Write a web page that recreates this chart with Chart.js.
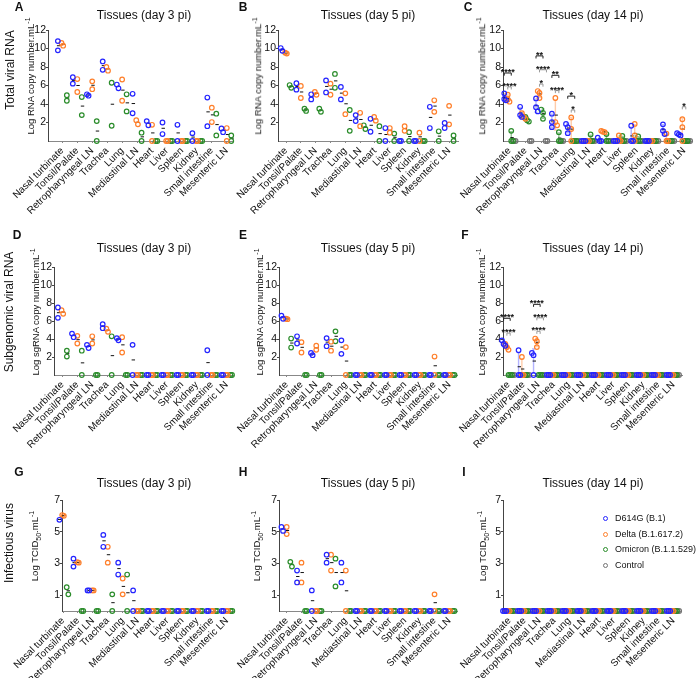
<!DOCTYPE html>
<html>
<head>
<meta charset="utf-8">
<script src="https://cdn.jsdelivr.net/npm/chart.js@4.4.0/dist/chart.umd.min.js"></script>
<style>
html, body { margin: 0; padding: 0; background: #fff; }
#fig { position: relative; width: 696px; height: 678px; overflow: hidden;
       font-family: "Liberation Sans", Arial, sans-serif; color: #111; }
#fig canvas { position: absolute; left: 0; top: 0; }
.t { position: absolute; white-space: nowrap; transform: translate(-50%, -50%); line-height: 1; }
.v { transform: translate(-50%, -50%) rotate(-90deg); }
.letter { font-weight: bold; font-size: 12px; }
.title { font-size: 12px; }
.ytitle { font-size: 9.5px; }
.row { font-size: 12px; }
.leg { position: absolute; font-size: 9px; white-space: nowrap; line-height: 1; }
.leg i { position: absolute; left: -12px; top: 0px; width: 3px; height: 3px; border-radius: 50%; border: 1.2px solid; }
</style>
</head>
<body>
<div id="fig"></div>
<script>
const FONT = '"Liberation Sans", Arial, sans-serif';

const TISSUES = ['Nasal turbinate', 'Tonsil/Palate', 'Retropharyngeal LN', 'Trachea', 'Lung', 'Mediastinal LN',
                 'Heart', 'Liver', 'Spleen', 'Kidney', 'Small intestine', 'Mesenteric LN'];
const GROUPS = ['D614G (B.1)', 'Delta (B.1.617.2)', 'Omicron (B.1.1.529)', 'Control'];
const COLORS = ['#2424ff', '#ff7f2a', '#2a8c2a', '#737373'];
const ERR_COLORS = ['rgba(36,36,255,0.35)', 'rgba(255,127,42,0.4)', 'rgba(42,140,42,0.5)', 'rgba(115,115,115,0.4)'];
const Y_TICKS_RNA = [2, 4, 6, 8, 10, 12];
const Y_TICKS_TCID = [1, 3, 5, 7];

// ─── Total viral RNA (log copies/mL), one array of replicates per tissue ───
const A_D614G   = [[10.8,9.8],[6.9,6.2],[5.05,4.9],[8.6,7.7],[6.1,5.7],[5.1,3.0],[2.15,1.7],[2.0,0.75],[1.75,0],[0.85,0],[4.7,1.6],[1.35,0.95]];
const A_DELTA   = [[10.6,10.3],[6.7,5.3],[6.45,5.6],[8.0,7.6],[6.65,4.35],[2.25,1.8],[1.75,0],[0,0],[0,0],[0,0],[3.6,2.05],[1.4,0]];
const A_OMICRON = [[4.95,4.35],[4.75,2.8],[2.15,0],[6.3,1.65],[5.05,3.2],[0.9,0],[0,0],[0,0],[0,0],[0,0],[2.95,0.6],[0.6,0]];

const B_D614G   = [[10.05,9.75],[6.25,5.55],[5.05,4.5],[6.55,5.25],[5.85,4.5],[2.8,2.15],[2.4,1.0],[1.4,0],[0,0],[0,0],[3.7,1.4],[1.95,1.4]];
const B_DELTA   = [[9.55,9.45],[5.95,4.65],[5.3,5.0],[6.2,5.0],[5.15,2.9],[3.05,1.6],[2.6,2.2],[1.4,0.9],[1.6,1.1],[0.9,0],[4.4,3.15],[3.8,1.8]];
const B_OMICRON = [[6.05,5.75],[3.5,3.25],[3.5,3.15],[7.25,5.75],[3.35,1.1],[1.7,1.3],[1.6,0],[0.8,0],[0.95,0],[0,0],[1.05,0],[0.6,0]];

const C_D614G   = [[5.15,4.55,4.4],[3.7,2.8,2.6],[4.6,3.65,3.2],[2.95,2.05,1.5],[1.85,1.5,0.85],[0,0,0],[0.35,0,0],[0,0,0],[1.65,0,0],[0,0,0],[1.8,1.1,0.75],[0.85,0.7,0.6]];
const C_DELTA   = [[5.0,4.5,4.25],[3.0,2.6,2.4],[5.4,5.2,4.65],[4.65,2.05,1.7],[2.55,1.3,0],[0,0,0],[1.1,1.0,0.95],[0.6,0,0],[1.85,0.6,0],[0,0,0],[0.8,0,0],[2.35,1.5,0]];
const C_OMICRON = [[1.1,0,0],[2.6,2.25,2.1],[3.4,3.05,2.4],[0.95,0,0],[0,0,0],[0.7,0,0],[0.75,0,0],[0.55,0,0],[0.5,0,0],[0,0,0],[0,0,0],[0,0,0]];
const C_CONTROL = [[0,0],[0,0],[0,0],[0,0],[0,0],[0,0],[0,0],[0,0],[0,0],[0,0],[0,0],[0,0]];

// ─── Subgenomic viral RNA ───
const D_D614G   = [[7.5,6.35],[4.6,4.2],[3.35,3.0],[5.65,5.2],[4.1,3.85],[3.35,0],[0,0],[0,0],[0,0],[0,0],[2.75,0],[0,0]];
const D_DELTA   = [[7.2,6.8],[4.35,3.5],[4.3,3.5],[5.15,4.8],[4.2,2.5],[0,0],[0,0],[0,0],[0,0],[0,0],[0,0],[0,0]];
const D_OMICRON = [[2.7,2.05],[2.7,0],[0,0],[4.3,0],[0,0],[0,0],[0,0],[0,0],[0,0],[0,0],[0,0],[0,0]];

const E_D614G   = [[6.6,6.25],[4.3,3.5],[2.45,2.2],[4.1,3.2],[3.85,2.35],[0,0],[0,0],[0,0],[0,0],[0,0],[0,0],[0,0]];
const E_DELTA   = [[6.25,6.2],[3.65,2.5],[3.25,2.8],[3.7,2.7],[3.1,0],[0,0],[0,0],[0,0],[0,0],[0,0],[2.05,0],[0,0]];
const E_OMICRON = [[4.05,3.05],[0,0],[0,0],[4.85,3.75],[0,0],[0,0],[0,0],[0,0],[0,0],[0,0],[0,0],[0,0]];

const F_D614G   = [[3.85,3.45,3.25],[2.75,0,0],[2.45,2.2,0],[0,0,0],[0,0,0],[0,0,0],[0,0,0],[0,0,0],[0,0,0],[0,0,0],[0,0,0],[0,0,0]];
const F_DELTA   = [[3.45,3.1,2.8],[2.0,0,0],[4.05,3.75,3.1],[0,0,0],[0,0,0],[0,0,0],[0,0,0],[0,0,0],[0,0,0],[0,0,0],[0,0,0],[0,0,0]];
const F_OMICRON = [[0,0,0],[0,0,0],[0,0,0],[0,0,0],[0,0,0],[0,0,0],[0,0,0],[0,0,0],[0,0,0],[0,0,0],[0,0,0],[0,0,0]];
const F_CONTROL = [[0,0],[0,0],[0,0],[0,0],[0,0],[0,0],[0,0],[0,0],[0,0],[0,0],[0,0],[0,0]];

// ─── Infectious virus (log TCID50/mL) ───
const G_D614G   = [[5.8,5.75],[3.3,2.8],[1.3,1.3],[4.8,4.05],[3.05,2.3],[1.3,0],[0,0],[0,0],[0,0],[0,0],[0,0],[0,0]];
const G_DELTA   = [[6.05,6.0],[3.08,3.05],[1.3,1.3],[4.05,3.05],[2.05,1.05],[0,0],[0,0],[0,0],[0,0],[0,0],[0,0],[0,0]];
const G_OMICRON = [[1.5,1.05],[0,0],[0,0],[1.05,0],[2.3,0],[0,0],[0,0],[0,0],[0,0],[0,0],[0,0],[0,0]];

const H_D614G   = [[5.3,5.05],[2.55,1.8],[1.3,0],[3.55,3.05],[3.05,1.8],[0,0],[0,0],[0,0],[0,0],[0,0],[0,0],[0,0]];
const H_DELTA   = [[5.3,4.85],[3.05,1.8],[0,0],[3.55,2.55],[2.55,0],[0,0],[0,0],[0,0],[0,0],[0,0],[1.05,0],[0,0]];
const H_OMICRON = [[3.1,2.8],[0,0],[0,0],[3.3,1.55],[0,0],[0,0],[0,0],[0,0],[0,0],[0,0],[0,0],[0,0]];

const I_D614G   = [[0,0,0],[0,0,0],[0,0,0],[0,0,0],[0,0,0],[0,0,0],[0,0,0],[0,0,0],[0,0,0],[0,0,0],[0,0,0],[0,0,0]];
const I_DELTA   = [[0,0,0],[0,0,0],[0,0,0],[0,0,0],[0,0,0],[0,0,0],[0,0,0],[0,0,0],[0,0,0],[0,0,0],[0,0,0],[0,0,0]];
const I_OMICRON = [[0,0,0],[0,0,0],[0,0,0],[0,0,0],[0,0,0],[0,0,0],[0,0,0],[0,0,0],[0,0,0],[0,0,0],[0,0,0],[0,0,0]];
const I_CONTROL = [[0,0],[0,0],[0,0],[0,0],[0,0],[0,0],[0,0],[0,0],[0,0],[0,0],[0,0],[0,0]];

// significance: [tissue, group from, group to, bracket level, stars, bracket colour]
const C_SIG = [[0,0,2,7.35,'****','k'],[0,1,2,5.85,'****','g'],[2,0,2,9.2,'**','k'],[2,1,3,7.7,'****','g'],
               [2,1,2,6.15,'*','g'],[3,0,2,7.1,'**','k'],[3,1,2,5.45,'****','g'],[4,0,2,4.85,'*','k'],
               [4,1,2,3.35,'*','g'],[11,1,2,3.7,'*','g']];
const F_SIG = [[0,0,2,6.3,'****','k'],[0,1,2,4.65,'****','g'],[2,0,2,7.85,'****','k'],[2,1,3,6.35,'****','g'],
               [2,1,2,4.85,'****','g']];

// box = chart area [left, top, right, bottom] in page pixels
const PANELS = [
  {key:'A', series:[A_D614G, A_DELTA, A_OMICRON], box:[48,30,232,141], x:[-0.96,11.35], ymax:12, yt:Y_TICKS_RNA},
  {key:'B', series:[B_D614G, B_DELTA, B_OMICRON], box:[278,30,458,141], x:[-0.54,11.6], ymax:12, yt:Y_TICKS_RNA},
  {key:'C', series:[C_D614G, C_DELTA, C_OMICRON, C_CONTROL], box:[503,30,692,141], x:[-0.41,11.5], ymax:12, yt:Y_TICKS_RNA, err:true, sig:C_SIG},
  {key:'D', series:[D_D614G, D_DELTA, D_OMICRON], box:[54,267,233,375], x:[-0.56,11.42], ymax:12, yt:Y_TICKS_RNA},
  {key:'E', series:[E_D614G, E_DELTA, E_OMICRON], box:[279,267,457,375], x:[-0.52,11.52], ymax:12, yt:Y_TICKS_RNA},
  {key:'F', series:[F_D614G, F_DELTA, F_OMICRON, F_CONTROL], box:[503,267,682,375], x:[-0.37,11.58], ymax:12, yt:Y_TICKS_RNA, err:true, sig:F_SIG},
  {key:'G', series:[G_D614G, G_DELTA, G_OMICRON], box:[62,500,233,611], x:[-0.07,11.4], ymax:7, yt:Y_TICKS_TCID},
  {key:'H', series:[H_D614G, H_DELTA, H_OMICRON], box:[279,500,457,611], x:[-0.52,11.52], ymax:7, yt:Y_TICKS_TCID},
  {key:'I', series:[I_D614G, I_DELTA, I_OMICRON, I_CONTROL], box:[503,500,680,611], x:[-0.44,11.44], ymax:7, yt:Y_TICKS_TCID, err:true}
];

const fig = document.getElementById('fig');

function mean(a) { return a.reduce((s, v) => s + v, 0) / a.length; }
function sd(a) {
  const m = mean(a);
  return Math.sqrt(a.reduce((s, v) => s + (v - m) * (v - m), 0) / (a.length - 1));
}
// replicates that would sit on top of each other get nudged sideways
function spread(vals) {
  return vals.map((v, k) => {
    const close = vals.some((w, j) => j !== k && Math.abs(w - v) < 0.45);
    return close ? (k - (vals.length - 1) / 2) * 0.11 : 0;
  });
}

function extrasPlugin(p, offs) {
  return {
    id: 'extras' + p.key,
    beforeDatasetsDraw(chart) {
      if (!p.err) return;
      const xs = chart.scales.x, ys = chart.scales.y, ctx = chart.ctx;
      ctx.save();
      ctx.lineWidth = 1.4;
      p.series.forEach((ser, g) => ser.forEach((vals, i) => {
        const m = mean(vals), s = sd(vals);
        if (!(s > 0)) return;
        const x = xs.getPixelForValue(i + offs[g]);
        const y1 = ys.getPixelForValue(Math.max(0, m - s)), y2 = ys.getPixelForValue(m + s);
        ctx.strokeStyle = ERR_COLORS[g];
        ctx.beginPath();
        ctx.moveTo(x, y1); ctx.lineTo(x, y2);
        ctx.moveTo(x - 1.5, y1); ctx.lineTo(x + 1.5, y1);
        ctx.moveTo(x - 1.5, y2); ctx.lineTo(x + 1.5, y2);
        ctx.stroke();
      }));
      ctx.restore();
    },
    afterDatasetsDraw(chart) {
      if (!p.sig) return;
      const xs = chart.scales.x, ys = chart.scales.y, ctx = chart.ctx;
      ctx.save();
      ctx.lineWidth = 1;
      ctx.font = 'bold 9px ' + FONT;
      ctx.textAlign = 'center';
      ctx.textBaseline = 'alphabetic';
      for (const [t, g1, g2, lvl, txt, col] of p.sig) {
        const x1 = xs.getPixelForValue(t + offs[g1]), x2 = xs.getPixelForValue(t + offs[g2]);
        const yb = ys.getPixelForValue(lvl), leg = ys.getPixelForValue(lvl - 0.28) - yb;
        ctx.strokeStyle = col === 'k' ? '#222' : '#9a9a9a';
        ctx.beginPath();
        ctx.moveTo(x1, yb + leg); ctx.lineTo(x1, yb); ctx.lineTo(x2, yb); ctx.lineTo(x2, yb + leg);
        ctx.stroke();
        ctx.fillStyle = '#111';
        ctx.fillText(txt, (x1 + x2) / 2, yb + 2);
      }
      ctx.restore();
    }
  };
}

function makePanel(p) {
  const cv = document.createElement('canvas');
  cv.width = 696; cv.height = 678;
  fig.appendChild(cv);
  const offs = p.series.length === 4 ? [-0.33, -0.11, 0.11, 0.33] : [-0.3, 0, 0.3];
  const datasets = p.series.map((ser, g) => {
    const pts = [];
    ser.forEach((vals, i) => {
      const sp = spread(vals);
      vals.forEach((v, k) => pts.push({x: i + offs[g] + sp[k], y: v}));
    });
    return {
      label: GROUPS[g], data: pts, borderColor: COLORS[g], backgroundColor: 'rgba(255,255,255,0)',
      pointRadius: 2.3, pointBorderWidth: 1.2, clip: false
    };
  });
  const means = [];
  p.series.forEach((ser, g) => ser.forEach((vals, i) => {
    const m = mean(vals);
    if (m > 0) means.push({x: i + offs[g] + 0.05, y: m});
  }));
  datasets.push({label: 'mean', data: means, pointStyle: 'line', pointRadius: 1.7,
                 borderColor: '#111', pointBorderWidth: 1, clip: false});

  const [L, T, R, B] = p.box;
  const YW = 30, XH = 678 - B;   // x scale box runs to the page bottom so rotated labels are not clipped
  new Chart(cv, {
    type: 'scatter',
    data: { datasets },
    options: {
      responsive: false, animation: false, events: [],
      layout: { autoPadding: false, padding: { left: L - YW, top: T, right: 696 - R, bottom: 0 } },
      plugins: { legend: { display: false }, tooltip: { enabled: false } },
      scales: {
        x: {
          type: 'linear', min: p.x[0], max: p.x[1],
          afterBuildTicks: s => { s.ticks = TISSUES.map((_, i) => ({value: i})); },
          afterFit: s => { s.height = XH; s.paddingLeft = 0; s.paddingRight = 0; },
          ticks: { autoSkip: false, minRotation: 45, maxRotation: 45, padding: 2, color: '#111',
                   font: { size: 10, family: FONT }, callback: v => TISSUES[v] },
          grid: { display: true, drawOnChartArea: false, drawTicks: true, tickLength: 2, color: '#888' },
          border: { display: true, color: '#888', width: 1 }
        },
        y: {
          type: 'linear', min: 0, max: p.ymax,
          afterBuildTicks: s => { s.ticks = p.yt.map(v => ({value: v})); },
          afterFit: s => { s.width = YW; s.paddingTop = 0; s.paddingBottom = 0; },
          ticks: { padding: 0, color: '#111', font: { size: 10.5, family: FONT } },
          grid: { display: true, drawOnChartArea: false, drawTicks: true, tickLength: 2, color: '#444' },
          border: { display: true, color: '#444', width: 1 }
        }
      }
    },
    plugins: [extrasPlugin(p, offs)]
  });
}

PANELS.forEach(makePanel);

// ─── Text: panel letters, titles, axis titles, row labels ───
function addText(html, x, y, cls) {
  const d = document.createElement('div');
  d.className = 't ' + cls;
  d.innerHTML = html;
  d.style.left = x + 'px';
  d.style.top = y + 'px';
  fig.appendChild(d);
}
const LETTER_POS = {A:[19,7],B:[243,7],C:[468,7],D:[17,235],E:[243,235],F:[465,235],G:[19,472],H:[243,472],I:[464,472]};
const TITLE_POS = {A:[144,15],B:[368,15],C:[593,15],D:[144,248],E:[368,248],F:[593,248],G:[144,483],H:[368,483],I:[593,483]};
const DAYS = {A:3,B:5,C:14,D:3,E:5,F:14,G:3,H:5,I:14};
const YT_POS = {A:[30,76],B:[257,76],C:[481,76],D:[35,312],E:[259,312],F:[481,312],G:[35,546],H:[257,546],I:[483,546]};
const YT_TEXT = {
  A: 'Log RNA copy number.mL<sup>-1</sup>', B: 'Log RNA copy number.mL<sup>-1</sup>', C: 'Log RNA copy number.mL<sup>-1</sup>',
  D: 'Log sgRNA copy number.mL<sup>-1</sup>', E: 'Log sgRNA copy number.mL<sup>-1</sup>', F: 'Log sgRNA copy number.mL<sup>-1</sup>',
  G: 'Log TCID<sub>50</sub>.mL<sup>-1</sup>', H: 'Log TCID<sub>50</sub>.mL<sup>-1</sup>', I: 'Log TCID<sub>50</sub>.mL<sup>-1</sup>'
};
for (const k of Object.keys(LETTER_POS)) {
  addText(k, LETTER_POS[k][0], LETTER_POS[k][1], 'letter');
  addText('Tissues (day ' + DAYS[k] + ' pi)', TITLE_POS[k][0], TITLE_POS[k][1], 'title');
  addText(YT_TEXT[k].replace(/<(su[pb])>/g, '<$1 style="font-size:7px">'), YT_POS[k][0], YT_POS[k][1], 'v ytitle');
}
addText('Total viral RNA', 10, 70, 'v row');
addText('Subgenomic viral RNA', 9, 312, 'v row');
addText('Infectious virus', 9, 543, 'v row');

// legend (panel I)
GROUPS.forEach((name, g) => {
  const d = document.createElement('div');
  d.className = 'leg';
  d.style.left = '615px';
  d.style.top = (514 + g * 15.5) + 'px';
  d.innerHTML = '<i style="border-color:' + COLORS[g] + ';top:2px"></i>' + name;
  fig.appendChild(d);
});
</script>
</body>
</html>
